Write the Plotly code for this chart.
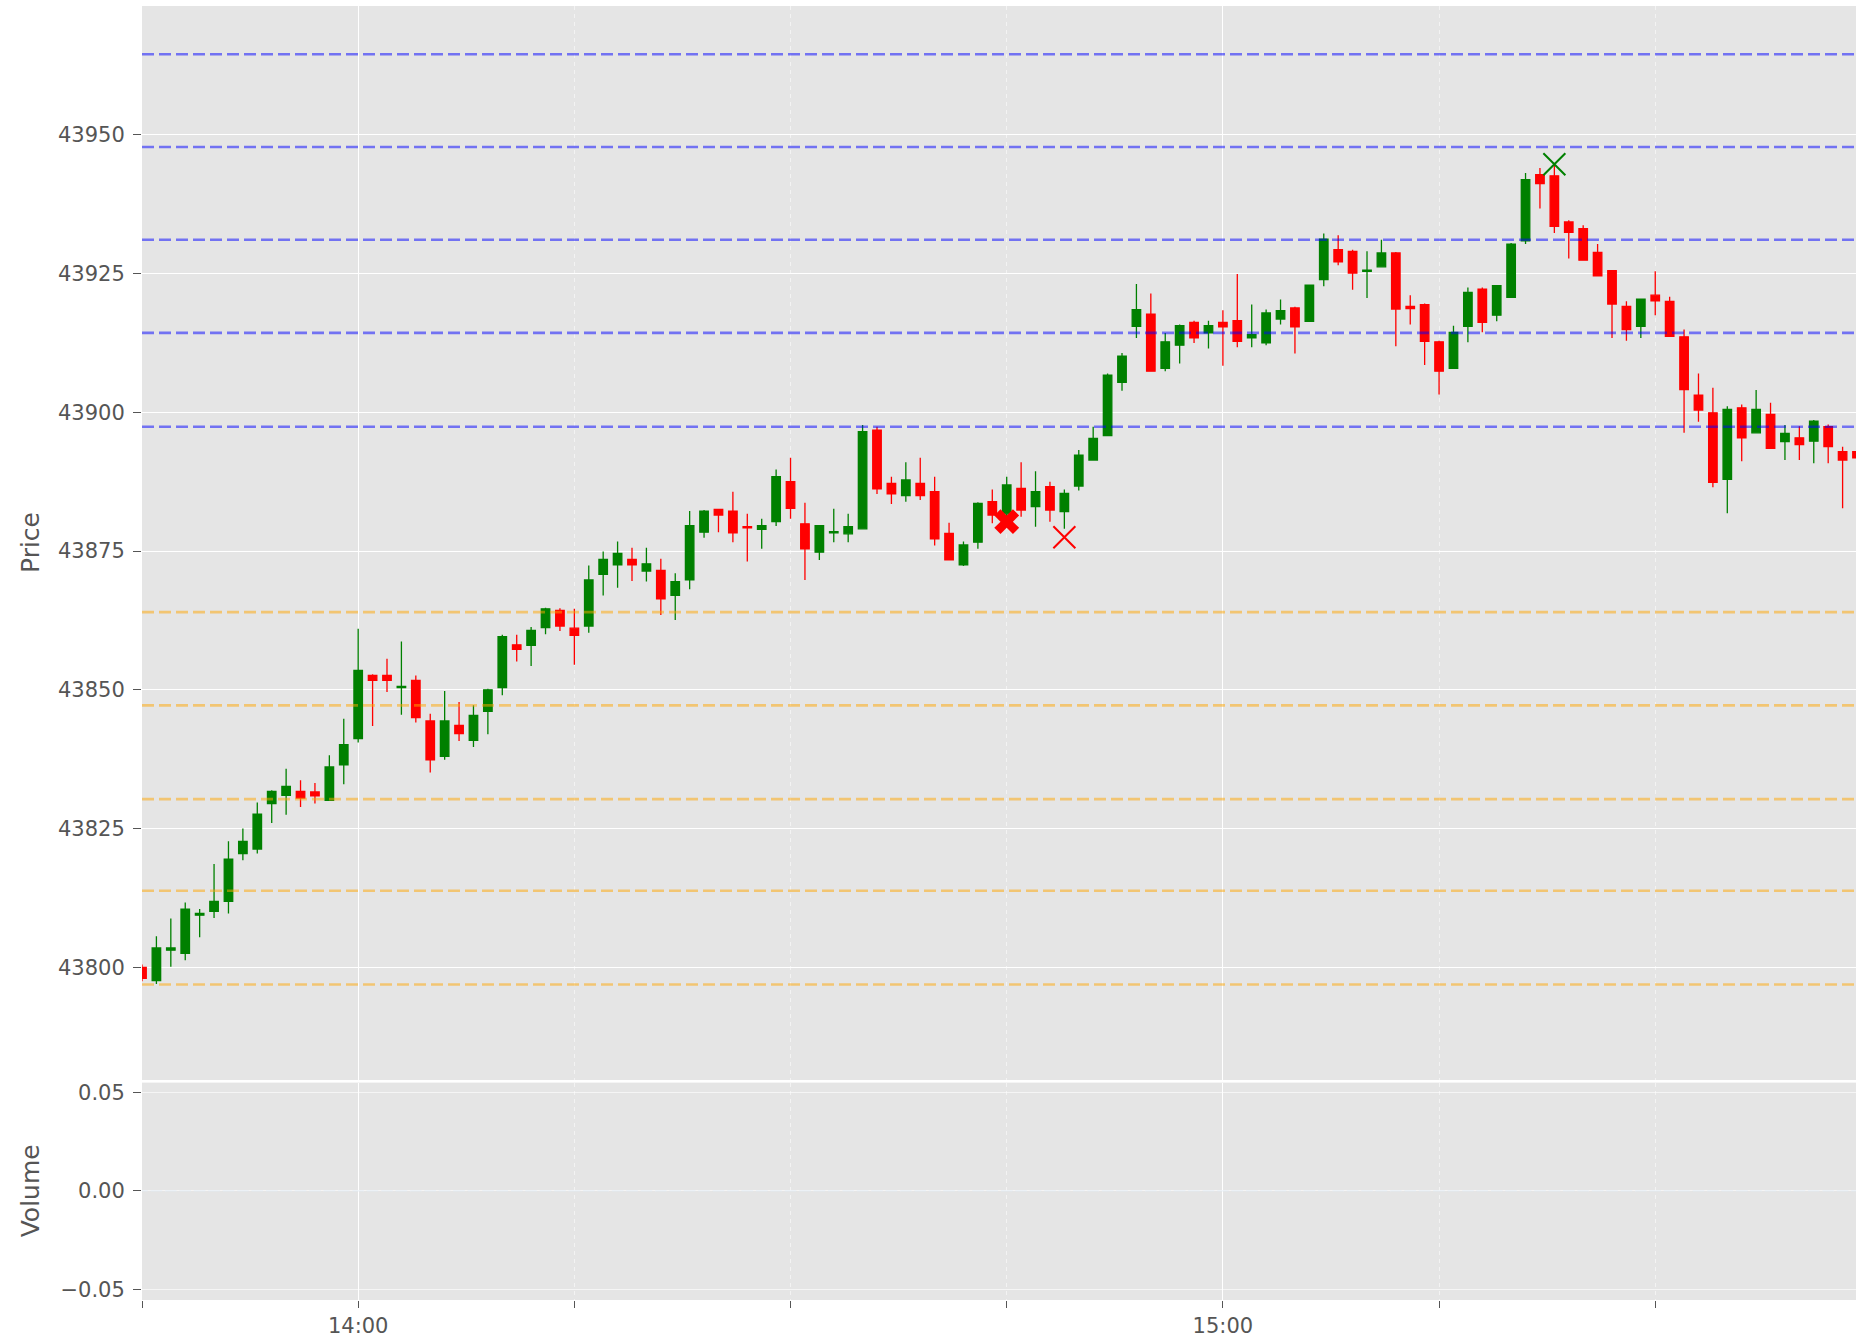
import pandas as pd
import plotly.graph_objects as go
from plotly.subplots import make_subplots

# ---------------- data ----------------
start_time = "2024-01-02 13:45"

opens = [43800.0, 43797.6, 43803.1, 43802.5, 43809.4, 43810.1, 43811.9, 43820.5, 43821.3, 43829.5,
         43831.0, 43831.7, 43831.6, 43830.1, 43836.5, 43841.2, 43852.6, 43852.6, 43850.4, 43851.7,
         43844.4, 43838.0, 43843.6, 43840.9, 43846.1, 43850.4, 43858.1, 43858.0, 43861.2, 43864.3,
         43861.1, 43861.5, 43870.8, 43872.5, 43873.5, 43871.4, 43871.5, 43867.0, 43869.8, 43878.4,
         43882.5, 43882.2, 43879.4, 43878.9, 43880.3, 43887.5, 43879.9, 43874.8, 43878.3, 43878.1,
         43879.0, 43896.8, 43887.2, 43885.0, 43887.2, 43885.7, 43878.2, 43872.5, 43876.6, 43883.9,
         43881.7, 43886.3, 43883.0, 43886.6, 43882.1, 43886.7, 43891.4, 43895.8, 43905.4, 43915.5,
         43917.7, 43907.9, 43912.1, 43916.2, 43914.3, 43916.2, 43916.5, 43913.4, 43912.5, 43916.8,
         43918.8, 43916.4, 43923.9, 43929.3, 43929.0, 43925.4, 43926.2, 43928.7, 43919.1, 43919.4,
         43912.7, 43907.9, 43915.5, 43922.2, 43917.5, 43920.7, 43930.9, 43942.8, 43942.6, 43934.3,
         43933.1, 43928.8, 43925.5, 43919.1, 43915.5, 43921.1, 43920.0, 43913.6, 43903.1, 43899.9,
         43887.9, 43900.8, 43896.3, 43899.6, 43894.7, 43895.4, 43894.8, 43897.4, 43892.9, 43892.9]

highs = [43800.5, 43805.6, 43808.8, 43811.7, 43810.5, 43818.6, 43822.7, 43825.0, 43829.7, 43831.9,
         43835.8, 43833.7, 43833.2, 43838.2, 43844.8, 43861.0, 43852.8, 43855.6, 43858.7, 43852.6,
         43845.7, 43849.8, 43847.8, 43847.2, 43850.2, 43859.9, 43859.9, 43861.3, 43864.8, 43864.7,
         43864.6, 43872.4, 43874.9, 43876.7, 43875.6, 43875.6, 43873.6, 43871.0, 43882.2, 43882.4,
         43882.6, 43885.7, 43881.7, 43880.8, 43889.7, 43891.8, 43883.7, 43879.7, 43882.6, 43881.7,
         43897.7, 43897.4, 43888.4, 43891.0, 43891.8, 43888.4, 43880.1, 43876.7, 43883.8, 43886.1,
         43888.4, 43891.0, 43889.4, 43887.5, 43886.1, 43893.2, 43897.4, 43907.0, 43910.7, 43923.1,
         43921.4, 43914.3, 43915.8, 43916.5, 43916.5, 43918.4, 43924.9, 43919.4, 43918.5, 43920.3,
         43919.0, 43923.0, 43932.2, 43931.9, 43929.3, 43929.0, 43931.1, 43928.9, 43921.1, 43919.6,
         43912.9, 43915.6, 43922.5, 43922.5, 43922.9, 43930.5, 43943.1, 43944.0, 43944.5, 43934.6,
         43933.7, 43930.3, 43925.6, 43920.0, 43920.5, 43925.4, 43920.8, 43914.9, 43907.0, 43904.4,
         43901.1, 43901.4, 43904.0, 43901.7, 43897.7, 43897.5, 43898.6, 43897.8, 43893.8, 43894.8]

lows = [43797.5, 43797.0, 43800.1, 43801.3, 43805.4, 43808.9, 43809.7, 43819.3, 43820.5, 43826.0,
        43827.5, 43828.9, 43829.5, 43830.0, 43833.0, 43840.5, 43843.5, 43849.6, 43845.5, 43844.1,
        43835.1, 43837.4, 43840.8, 43839.7, 43842.0, 43849.0, 43855.1, 43854.3, 43860.0, 43860.6,
        43854.5, 43860.3, 43867.0, 43868.4, 43869.6, 43869.5, 43863.5, 43862.6, 43868.1, 43877.4,
        43878.4, 43876.6, 43873.1, 43875.4, 43879.5, 43880.8, 43869.8, 43873.4, 43876.6, 43876.6,
        43878.9, 43885.3, 43883.5, 43883.9, 43884.2, 43876.0, 43873.3, 43872.3, 43875.4, 43880.0,
        43880.0, 43881.2, 43879.4, 43880.3, 43879.0, 43885.9, 43891.3, 43895.7, 43903.9, 43913.4,
        43907.3, 43907.4, 43908.8, 43912.5, 43911.5, 43908.4, 43911.7, 43911.7, 43912.1, 43915.8,
        43910.6, 43916.3, 43922.7, 43926.5, 43922.1, 43920.6, 43926.1, 43911.9, 43915.8, 43908.5,
        43903.2, 43907.8, 43912.6, 43914.4, 43916.4, 43920.6, 43930.3, 43936.7, 43932.3, 43927.7,
        43927.3, 43924.5, 43913.4, 43912.9, 43913.4, 43917.5, 43913.6, 43896.3, 43898.3, 43886.5,
        43881.8, 43891.2, 43896.2, 43893.4, 43891.4, 43891.4, 43890.8, 43890.8, 43882.7, 43889.1]

closes = [43798.0, 43803.5, 43803.5, 43810.5, 43809.7, 43811.9, 43819.5, 43822.7, 43827.6, 43831.7,
          43832.6, 43830.5, 43830.9, 43836.1, 43840.1, 43853.5, 43851.7, 43851.7, 43850.6, 43845.0,
          43837.4, 43844.4, 43842.1, 43845.4, 43850.0, 43859.6, 43857.3, 43860.7, 43864.6, 43861.5,
          43859.8, 43869.8, 43873.5, 43874.6, 43872.5, 43872.7, 43866.4, 43869.5, 43879.6, 43882.2,
          43881.5, 43878.3, 43879.2, 43879.6, 43888.4, 43882.7, 43875.4, 43879.6, 43878.5, 43879.4,
          43896.5, 43886.2, 43885.3, 43887.8, 43885.0, 43877.2, 43873.4, 43876.1, 43883.6, 43881.5,
          43886.9, 43882.4, 43885.7, 43882.4, 43885.4, 43892.3, 43895.3, 43906.7, 43910.1, 43918.5,
          43907.4, 43912.7, 43915.6, 43913.4, 43915.6, 43915.4, 43912.8, 43914.0, 43917.9, 43918.3,
          43915.4, 43922.9, 43931.2, 43927.1, 43925.1, 43925.6, 43928.7, 43918.6, 43918.7, 43912.8,
          43907.4, 43914.4, 43921.6, 43916.2, 43922.8, 43930.3, 43941.9, 43941.2, 43933.5, 43932.4,
          43927.4, 43924.6, 43919.5, 43914.9, 43920.4, 43920.1, 43913.7, 43904.1, 43900.4, 43887.4,
          43900.5, 43895.4, 43900.5, 43893.5, 43896.2, 43894.2, 43898.4, 43893.8, 43891.4, 43891.8]

volumes = [0, 0, 0, 0, 0, 0, 0, 0, 0, 0, 0, 0, 0, 0, 0, 0, 0, 0, 0, 0,
           0, 0, 0, 0, 0, 0, 0, 0, 0, 0, 0, 0, 0, 0, 0, 0, 0, 0, 0, 0,
           0, 0, 0, 0, 0, 0, 0, 0, 0, 0, 0, 0, 0, 0, 0, 0, 0, 0, 0, 0,
           0, 0, 0, 0, 0, 0, 0, 0, 0, 0, 0, 0, 0, 0, 0, 0, 0, 0, 0, 0,
           0, 0, 0, 0, 0, 0, 0, 0, 0, 0, 0, 0, 0, 0, 0, 0, 0, 0, 0, 0,
           0, 0, 0, 0, 0, 0, 0, 0, 0, 0, 0, 0, 0, 0, 0, 0, 0, 0, 0, 0]

resistance_levels = [43897.4, 43914.3, 43931.1, 43947.8, 43964.5]
support_levels = [43864.0, 43847.2, 43830.3, 43813.8, 43796.9]

strong_sell_idx = [60]
strong_sell_price = [43880.3]
sell_idx = [64]
sell_price = [43877.5]
buy_idx = [98]
buy_price = [43944.7]

price_ticks = [43800, 43825, 43850, 43875, 43900, 43925, 43950]
volume_ticks = [-0.05, 0.0, 0.05]

# ---------------- figure ----------------
times = pd.date_range(start_time, periods=len(opens), freq="min")
x_start = times[0]
x_end = times[0] + pd.Timedelta(minutes=118.93)

FONT = "DejaVu Sans"
GREY = "#555555"
BG = "#E5E5E5"

fig = make_subplots(rows=2, cols=1, shared_xaxes=True)

fig.add_trace(go.Candlestick(
    x=times, open=opens, high=highs, low=lows, close=closes,
    increasing=dict(line=dict(color="#008000", width=1.3), fillcolor="#008000"),
    decreasing=dict(line=dict(color="#FF0000", width=1.3), fillcolor="#FF0000"),
    whiskerwidth=0, showlegend=False, hoverinfo="skip",
), row=1, col=1)

fig.add_trace(go.Bar(x=times, y=volumes, marker_color="#1f77b4", showlegend=False,
                     hoverinfo="skip"), row=2, col=1)

fig.add_trace(go.Scatter(
    x=[times[i] for i in strong_sell_idx], y=strong_sell_price, mode="markers",
    marker=dict(symbol="x", size=22, color="#FF0000", line=dict(width=0)),
    showlegend=False, hoverinfo="skip"), row=1, col=1)
fig.add_trace(go.Scatter(
    x=[times[i] for i in sell_idx], y=sell_price, mode="markers",
    marker=dict(symbol="x-thin", size=22, color="#FF0000", line=dict(width=2, color="#FF0000")),
    showlegend=False, hoverinfo="skip"), row=1, col=1)
fig.add_trace(go.Scatter(
    x=[times[i] for i in buy_idx], y=buy_price, mode="markers",
    marker=dict(symbol="x-thin", size=22, color="#008000", line=dict(width=2, color="#008000")),
    showlegend=False, hoverinfo="skip"), row=1, col=1)

shapes = []
for lvl in resistance_levels:
    shapes.append(dict(type="line", xref="x domain", x0=0, x1=1, yref="y", y0=lvl, y1=lvl,
                       line=dict(color="rgba(0,0,255,0.5)", width=2.6, dash="12px,5px"),
                       layer="above"))
for lvl in support_levels:
    shapes.append(dict(type="line", xref="x domain", x0=0, x1=1, yref="y", y0=lvl, y1=lvl,
                       line=dict(color="rgba(255,165,0,0.5)", width=2.6, dash="12px,5px"),
                       layer="above"))

def xaxis_style(show_ticks):
    return dict(
        type="date", range=[x_start, x_end],
        tick0="2024-01-02 14:00", dtick=3600000, tickformat="%H:%M",
        showgrid=True, gridcolor="white", gridwidth=1.3,
        zeroline=False, showline=False, rangeslider=dict(visible=False),
        showticklabels=show_ticks,
        ticks="outside" if show_ticks else "", ticklen=7, tickcolor=GREY, tickwidth=1.2,
        tickfont=dict(size=21, color=GREY),
        minor=dict(tick0="2024-01-02 13:45", dtick=900000, showgrid=True,
                   gridcolor="rgba(255,255,255,0.55)", griddash="4px,4px", gridwidth=1,
                   ticks="outside" if show_ticks else "", ticklen=7, tickcolor=GREY,
                   tickwidth=1.2),
        domain=[0, 1],
    )

fig.update_layout(
    width=1856, height=1343,
    margin=dict(l=142, r=0, t=6, b=43),
    paper_bgcolor="white", plot_bgcolor=BG,
    font=dict(family=FONT, size=21, color=GREY),
    boxgap=0.41, boxgroupgap=0,
    shapes=shapes,
    xaxis=xaxis_style(False),
    xaxis2=xaxis_style(True),
    yaxis=dict(domain=[0.1700, 1.0], range=[43779.7, 43973.2], tickvals=price_ticks,
               tickformat="d", showgrid=True, gridcolor="white", gridwidth=1.3,
               zeroline=False, ticks="outside", ticklen=8, tickcolor=GREY, tickwidth=1.2,
               ticklabelstandoff=4, tickfont=dict(size=21, color=GREY)),
    yaxis2=dict(domain=[0.0, 0.1680], range=[-0.0554, 0.055], tickvals=volume_ticks,
                tickformat=".2f", showgrid=True, gridcolor="rgba(255,255,255,0.6)", gridwidth=1,
                zeroline=False, ticks="outside", ticklen=8, tickcolor=GREY, tickwidth=1.2,
                ticklabelstandoff=4, tickfont=dict(size=21, color=GREY)),
    annotations=[
        dict(text="Price", xref="paper", yref="paper", x=0, y=0.585, xshift=-112,
             xanchor="center", yanchor="middle", textangle=-90, showarrow=False,
             font=dict(size=25, color=GREY, family=FONT)),
        dict(text="Volume", xref="paper", yref="paper", x=0, y=0.084, xshift=-112,
             xanchor="center", yanchor="middle", textangle=-90, showarrow=False,
             font=dict(size=25, color=GREY, family=FONT)),
    ],
)

fig.write_html("out.html")
